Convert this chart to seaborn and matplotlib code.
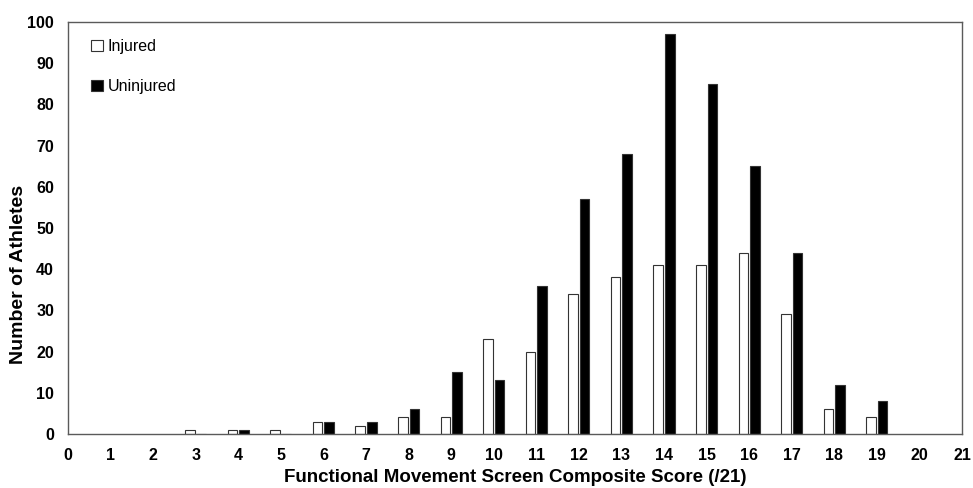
import matplotlib
matplotlib.use("Agg")
import matplotlib.pyplot as plt
import seaborn as sns
import pandas as pd

scores = list(range(3, 20))
injured = [1, 1, 1, 3, 2, 4, 4, 23, 20, 34, 38, 41, 41, 44, 29, 6, 4]
uninjured = [0, 1, 0, 3, 3, 6, 15, 13, 36, 57, 68, 97, 85, 65, 44, 12, 8]
groups = ["Injured", "Uninjured"]
x_ticks = list(range(0, 22))
y_ticks = list(range(0, 101, 10))

sns.set_theme(style="white")
plt.rcParams['font.family'] = ['Liberation Sans', 'DejaVu Sans']
plt.rcParams['text.color'] = 'black'
plt.rcParams['axes.labelcolor'] = 'black'
plt.rcParams['xtick.color'] = 'black'
plt.rcParams['ytick.color'] = 'black'

rows = []
for s, a, b in zip(scores, injured, uninjured):
    rows.append({"score": s, "count": a, "group": groups[0]})
    rows.append({"score": s, "count": b, "group": groups[1]})
df = pd.DataFrame(rows)

fig = plt.figure(figsize=(9.73, 4.88), dpi=100)
ax = fig.add_axes([0.0699, 0.1107, 0.9188, 0.8443])

sns.barplot(data=df, x="score", y="count", hue="group", hue_order=groups,
            palette={"Injured": "white", "Uninjured": "black"},
            native_scale=True, width=0.54, gap=0.17, edgecolor="#333333",
            linewidth=0.8, ax=ax, errorbar=None)

ax.set_xlim(0, 21)
ax.set_ylim(0, 100)
ax.set_xticks(x_ticks)
ax.set_xticklabels([str(t) for t in x_ticks], fontweight="bold", fontsize=11.5)
ax.set_yticks(y_ticks)
ax.set_yticklabels([str(t) for t in y_ticks], fontweight="bold", fontsize=11.5)
ax.tick_params(axis="x", length=0, pad=10)
ax.tick_params(axis="y", length=0, pad=10)
ax.set_xlabel("Functional Movement Screen Composite Score (/21)", fontweight="bold", fontsize=13.5)
ax.set_ylabel("Number of Athletes", fontweight="bold", fontsize=14)
ax.xaxis.set_label_coords(0.5, -0.085)
ax.yaxis.set_label_coords(-0.046, 0.388)
for sp in ax.spines.values():
    sp.set_visible(True)
    sp.set_color("#5a5a5a")
    sp.set_linewidth(1.0)
ax.grid(False)

leg = ax.legend(loc="upper left", bbox_to_anchor=(0.01, 0.993), frameon=False,
                fontsize=11.5, labelspacing=1.55, handlelength=0.7, handleheight=0.7,
                handletextpad=0.3)

fig.savefig("out.png", dpi=100)
